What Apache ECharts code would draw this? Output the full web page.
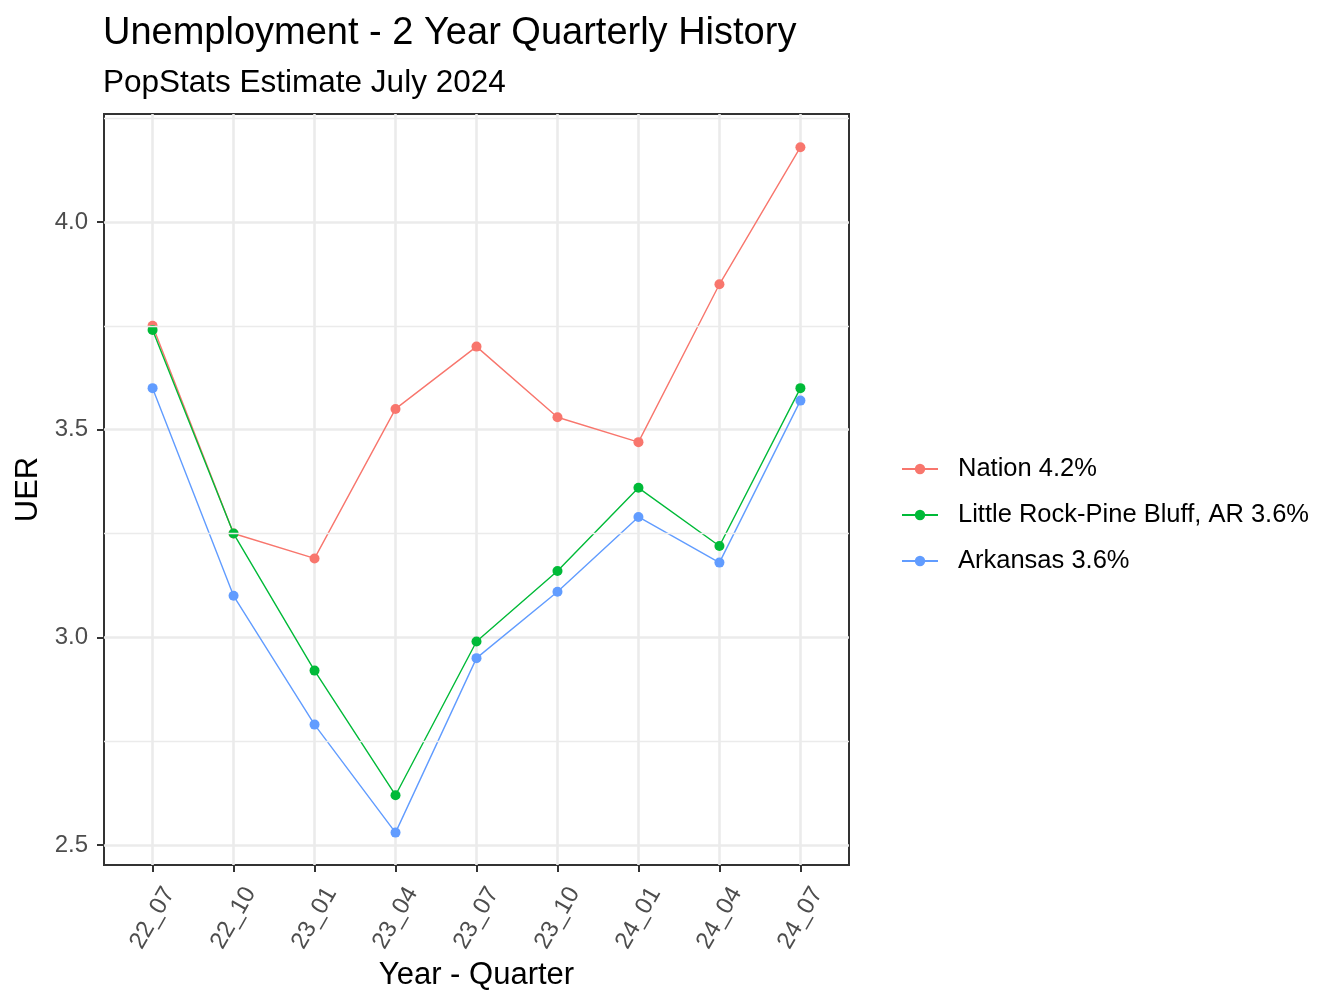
<!DOCTYPE html>
<html>
<head>
<meta charset="utf-8">
<script src="https://cdn.jsdelivr.net/npm/echarts@6/dist/echarts.min.js"></script>
<style>html,body{margin:0;padding:0;background:#fff;}#c{width:1344px;height:1008px;}</style>
</head>
<body>
<div id="c"></div>
<script>
const categories = ['22_07','22_10','23_01','23_04','23_07','23_10','24_01','24_04','24_07'];
const nation = [3.75,3.25,3.19,3.55,3.70,3.53,3.47,3.85,4.18];
const littleRock = [3.74,3.25,2.92,2.62,2.99,3.16,3.36,3.22,3.60];
const arkansas = [3.60,3.10,2.79,2.53,2.95,3.11,3.29,3.18,3.57];
const seriesNames = ['Nation 4.2%','Little Rock-Pine Bluff, AR 3.6%','Arkansas 3.6%'];
const yTicks = [2.5,3.0,3.5,4.0];
const yMinor = [2.75,3.25,3.75,4.25];
const colors = ['#F8766D','#00BA38','#619CFF'];
const FONT = 'Liberation Sans, Arial, sans-serif';

const chart = echarts.init(document.getElementById('c'));
const xIdx = categories.map((_, i) => i);
function pts(arr){ return arr.map((v,i)=>[i,v]); }
const mk = (name, arr, color) => ({
  name, type:'line', data: pts(arr), symbol:'circle', symbolSize:10,
  lineStyle:{width:1.4,color}, itemStyle:{color}, z:3, animation:false
});
chart.setOption({
  animation:false,
  color: colors,
  title:[
    {text:'Unemployment - 2 Year Quarterly History', left:103, top:15, padding:0,
     textStyle:{fontFamily:FONT,fontSize:38,fontWeight:'normal',color:'#000'}},
    {text:'PopStats Estimate July 2024', left:103, top:67, padding:0,
     textStyle:{fontFamily:FONT,fontSize:31.5,fontWeight:'normal',color:'#000'}}
  ],
  legend:{
    orient:'vertical', left:901, top:455, padding:0, itemWidth:36, itemHeight:13, itemGap:18,
    textStyle:{fontFamily:FONT,fontSize:25.5,color:'#000',lineHeight:28,padding:[0,0,0,15]},
    data: seriesNames
  },
  grid:{left:104, top:114, width:745, height:751, show:true, borderColor:'#333333', borderWidth:2, backgroundColor:'#fff'},
  xAxis:{
    type:'value', min:-0.6, max:8.6,
    name:'Year - Quarter', nameLocation:'middle', nameGap:95,
    nameTextStyle:{fontFamily:FONT,fontSize:31,color:'#000'},
    axisLine:{show:false, onZero:false},
    axisTick:{show:true, length:7, lineStyle:{color:'#333',width:2}, customValues:xIdx},
    axisLabel:{customValues:xIdx, rotate:60, align:'center', verticalAlign:'middle', margin:53,
      fontFamily:FONT, fontSize:24, color:'#4D4D4D',
      formatter:(v)=>categories[Math.round(v)]},
    splitLine:{show:true, lineStyle:{color:'#EBEBEB', width:2.6}}
  },
  yAxis:{
    type:'value', min:2.452, max:4.26,
    name:'UER', nameLocation:'middle', nameGap:57,
    nameTextStyle:{fontFamily:FONT,fontSize:31,color:'#000'},
    axisLine:{show:false, onZero:false},
    axisTick:{show:true, length:7, lineStyle:{color:'#333',width:2}, customValues:yTicks},
    axisLabel:{customValues:yTicks, margin:16, fontFamily:FONT, fontSize:24, color:'#4D4D4D',
      formatter:(v)=>v.toFixed(1)},
    splitLine:{show:true, lineStyle:{color:'#EBEBEB', width:2.6}}
  },
  series:[
    {type:'line', data:[], silent:true, z:1,
     markLine:{silent:true, symbol:'none', label:{show:false},
       lineStyle:{color:'#EBEBEB', width:1.3, type:'solid'},
       data: yMinor.map(v=>({yAxis:v}))}},
    mk(seriesNames[0], nation, colors[0]),
    mk(seriesNames[1], littleRock, colors[1]),
    mk(seriesNames[2], arkansas, colors[2])
  ]
});
</script>
</body>
</html>
